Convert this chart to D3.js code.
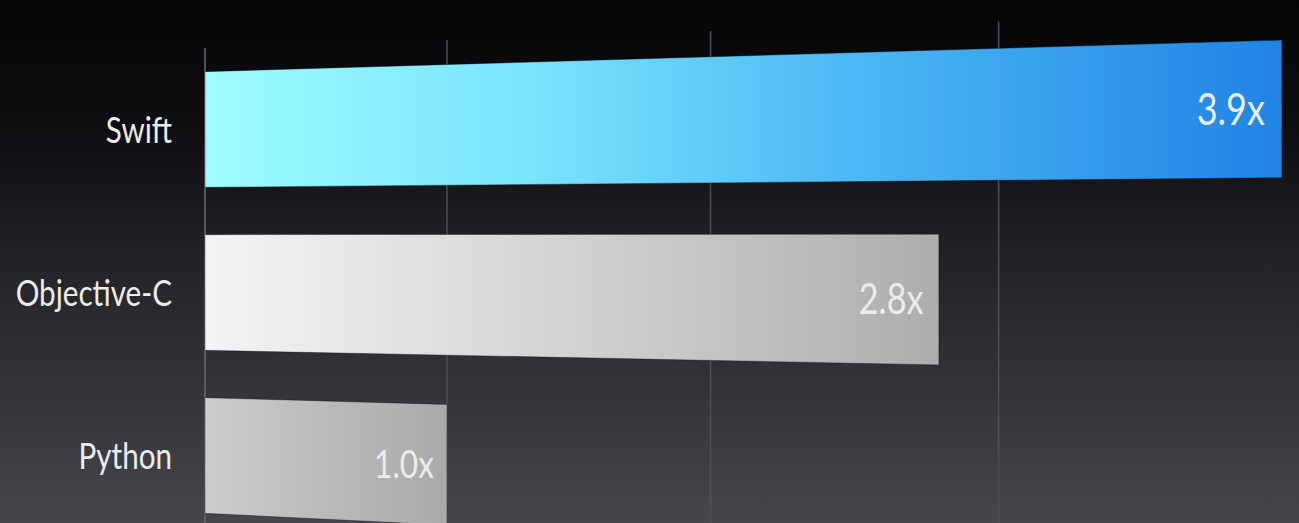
<!DOCTYPE html>
<html>
<head>
<meta charset="utf-8">
<script src="https://cdn.jsdelivr.net/npm/d3@7"></script>
<style>
  html, body { margin: 0; padding: 0; background: #000; overflow: hidden; }
  svg { display: block; }
  text { font-family: Lato, "Open Sans", sans-serif; fill: #ececec; }
</style>
</head>
<body>
<svg id="chart" width="1299" height="523"></svg>
<script>
// Relative performance data
const categories = ["Swift", "Objective-C", "Python"];
const speedups = [3.9, 2.8, 1.0];
const valueLabels = ["3.9x", "2.8x", "1.0x"];
const gridTicks = [0, 1, 2, 3];

const W = 1299, H = 523;
const svg = d3.select("#chart");
const defs = svg.append("defs");

// Background: dark vertical fade
const bg = defs.append("linearGradient").attr("id", "bg")
  .attr("x1", 0).attr("y1", 0).attr("x2", 0).attr("y2", 1);
[[0, "#050507"], [0.25, "#0f0f12"], [0.5, "#232328"], [0.8, "#37383d"], [1, "#46474c"]]
  .forEach(([o, c]) => bg.append("stop").attr("offset", o).attr("stop-color", c));
svg.append("rect").attr("width", W).attr("height", H).attr("fill", "url(#bg)");

// Bar fills, one gradient per category
const barFills = {
  "Swift": [[0, "#9efcff"], [0.3, "#7ae4fc"], [0.6, "#4cb8f4"], [1, "#1f84e5"]],
  "Objective-C": [[0, "#f4f3f6"], [0.5, "#d2d2d3"], [1, "#adadad"]],
  "Python": [[0, "#cccccd"], [1, "#a9a9a9"]]
};
categories.forEach((c, i) => {
  const g = defs.append("linearGradient").attr("id", "bar" + i)
    .attr("x1", 0).attr("y1", 0).attr("x2", 1).attr("y2", 0);
  barFills[c].forEach(([o, col]) => g.append("stop").attr("offset", o).attr("stop-color", col));
});

// Flat chart scales
const x = d3.scaleLinear().domain([0, 4]).range([0, 1000]);
const y = d3.scaleBand().domain(categories).range([48, 537])
  .paddingInner(0.29).paddingOuter(0.145);

// The chart plane is seen in perspective, turned about a vertical axis:
// the right-hand side sits nearer to the viewer.
const X0 = 205, B = 0.8948, C = -0.0001636, HORIZON = 238;
const depth = px => 1 + C * px;
const project = (px, v) => {
  const d = depth(px);
  return [(X0 + B * px) / d, HORIZON + (v - HORIZON) / d];
};
const poly = d3.line();

// Vertical grid lines
const gridG = svg.append("g");
gridTicks.forEach(t => {
  const px = x(t);
  const a = project(px, y.range()[0]);
  const b = project(px, 620);
  gridG.append("line")
    .attr("x1", a[0]).attr("y1", a[1]).attr("x2", b[0]).attr("y2", b[1])
    .attr("stroke", t === 0 ? "#6a6a70" : "#4e4f55")
    .attr("stroke-width", 1.5);
});

// Bars
const barsG = svg.append("g");
categories.forEach((c, i) => {
  const top = y(c), bot = y(c) + y.bandwidth();
  const x0 = x(0), x1 = x(speedups[i]);
  const pts = [project(x0, top), project(x1, top), project(x1, bot), project(x0, bot)];
  barsG.append("path")
    .attr("d", poly(pts) + "Z")
    .attr("fill", `url(#bar${i})`)
    .attr("stroke", "rgba(0,0,0,0.35)")
    .attr("stroke-width", 1);
});

// Value labels inside the bar ends, scaled with the perspective
const valG = svg.append("g");
categories.forEach((c, i) => {
  const px = x(speedups[i]) - 13;
  const v = y(c) + y.bandwidth() / 2;
  const [sx, sy] = project(px, v);
  const s = 1 / depth(px);
  valG.append("text")
    .attr("transform", `translate(${sx},${sy}) scale(${0.82 * s},${s})`)
    .attr("text-anchor", "end")
    .attr("dy", "0.36em")
    .attr("font-size", 37)
    .text(valueLabels[i]);
});

// Category labels
const catG = svg.append("g");
categories.forEach(c => {
  const v = y(c) + y.bandwidth() / 2;
  catG.append("text")
    .attr("transform", `translate(172,${v}) scale(0.8,1)`)
    .attr("text-anchor", "end")
    .attr("dy", "0.36em")
    .attr("font-size", 37)
    .text(c);
});
</script>
</body>
</html>
